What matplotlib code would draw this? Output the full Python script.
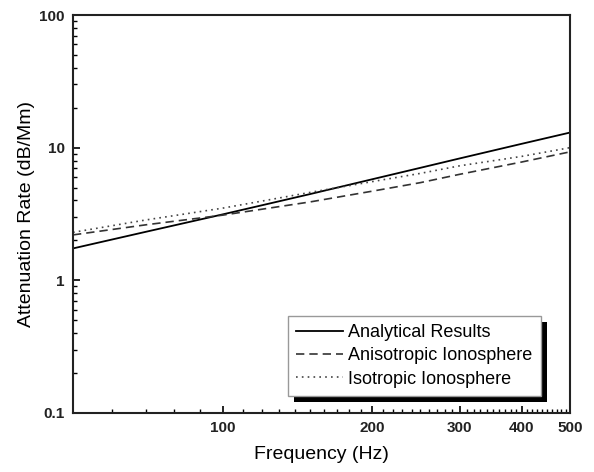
import numpy as np
import matplotlib.pyplot as plt
from matplotlib.ticker import FixedLocator, NullFormatter, FixedFormatter
from matplotlib.patches import Rectangle

plt.rcParams['font.family'] = ['Liberation Sans', 'DejaVu Sans']

# values
freq = [50, 70, 100, 150, 200, 250, 300, 400, 500]
analytical = [1.74, 2.32, 3.14, 4.47, 5.78, 7.05, 8.3, 10.7, 13.0]
anisotropic = [2.2, 2.62, 3.1, 3.9, 4.7, 5.45, 6.3, 7.8, 9.3]
isotropic = [2.3, 2.85, 3.5, 4.6, 5.55, 6.4, 7.3, 8.6, 10.0]

x_major = [100, 200, 300, 400, 500]
x_labels = ['100', '200', '300', '400', '500']
y_major = [0.1, 1, 10, 100]
y_labels = ['0.1', '1', '10', '100']

fig = plt.figure(figsize=(5.94, 4.72), dpi=100)
ax = fig.add_axes([0.1229, 0.125, 0.8367, 0.8432])

ax.plot(freq, analytical, color='black', lw=1.3, label='Analytical Results')
ax.plot(freq, anisotropic, color='#333333', lw=1.2, linestyle=(0, (5, 3)),
        label='Anisotropic Ionosphere')
ax.plot(freq, isotropic, color='#444444', lw=1.2, linestyle=(0, (1, 2.5)),
        label='Isotropic Ionosphere')

ax.set_xscale('log')
ax.set_yscale('log')
ax.set_xlim(50, 500)
ax.set_ylim(0.1, 100)

x_minor = [60, 70, 80, 90] + [f for f in range(110, 500, 10) if f % 100 != 0]
ax.xaxis.set_major_locator(FixedLocator(x_major))
ax.xaxis.set_major_formatter(FixedFormatter(x_labels))
ax.xaxis.set_minor_locator(FixedLocator(x_minor))
ax.xaxis.set_minor_formatter(NullFormatter())

y_minor = [m * 10.0 ** e for e in (-1, 0, 1) for m in range(2, 10)]
ax.yaxis.set_major_locator(FixedLocator(y_major))
ax.yaxis.set_major_formatter(FixedFormatter(y_labels))
ax.yaxis.set_minor_locator(FixedLocator(y_minor))
ax.yaxis.set_minor_formatter(NullFormatter())

ax.tick_params(which='major', direction='in', length=5, width=1.2,
               labelsize=11, pad=6)
ax.tick_params(which='minor', direction='in', length=3, width=1)
for lab in ax.get_xticklabels() + ax.get_yticklabels():
    lab.set_fontweight('bold')
    lab.set_color('#222222')
for sp in ax.spines.values():
    sp.set_linewidth(1.5)
    sp.set_color('#222222')

ax.set_xlabel('Frequency (Hz)', fontsize=14, labelpad=8)
ax.set_ylabel('Attenuation Rate (dB/Mm)', fontsize=14, labelpad=3)

leg = ax.legend(loc='upper left', bbox_to_anchor=(0.4326, 0.2437),
                fontsize=13, frameon=True, fancybox=False, handlelength=2.6,
                handletextpad=0.3, borderpad=0.45, labelspacing=0.35,
                borderaxespad=0)
leg.get_frame().set_edgecolor('#999999')
leg.get_frame().set_linewidth(1)
leg.get_frame().set_alpha(1)
leg.set_zorder(5)

fig.canvas.draw()
bb = leg.get_window_extent().transformed(ax.transAxes.inverted())
dx = 6 / 497
dy = 6 / 398
shadow = Rectangle((bb.x0 + dx, bb.y0 - dy), bb.width, bb.height,
                   transform=ax.transAxes, facecolor='black',
                   edgecolor='none', zorder=4)
ax.add_patch(shadow)

fig.savefig('out.png', dpi=100)
